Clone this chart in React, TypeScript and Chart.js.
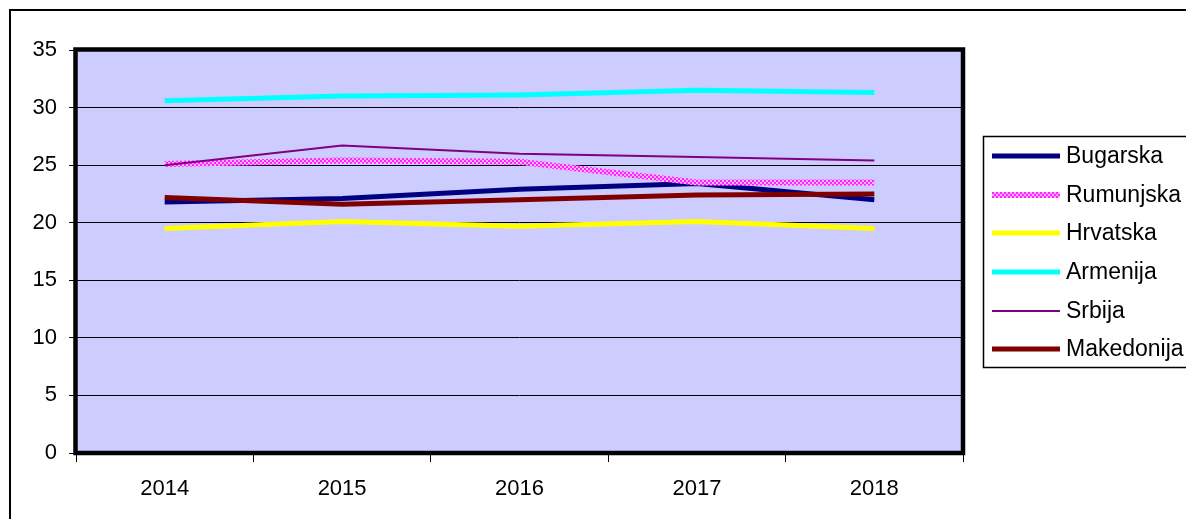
import React, { useEffect, useRef } from "react";
import { Chart, registerables } from "chart.js";

Chart.register(...registerables);

const years = ["2014", "2015", "2016", "2017", "2018"];
const bugarska = [21.8, 22.1, 22.9, 23.4, 22.0];
const rumunjska = [25.1, 25.4, 25.3, 23.5, 23.5];
const hrvatska = [19.5, 20.1, 19.7, 20.1, 19.5];
const armenija = [30.6, 31.0, 31.1, 31.5, 31.3];
const srbija = [25.0, 26.7, 26.0, 25.7, 25.4];
const makedonija = [22.2, 21.6, 22.0, 22.4, 22.5];
const seriesNames = ["Bugarska", "Rumunjska", "Hrvatska", "Armenija", "Srbija", "Makedonija"];

const FONT = "'Liberation Sans', Arial, sans-serif";

function makePattern(): CanvasPattern | string {
  const c = document.createElement("canvas");
  c.width = 4;
  c.height = 4;
  const g = c.getContext("2d");
  if (!g) return "#FF66FF";
  g.fillStyle = "#FFB3FF";
  g.fillRect(0, 0, 4, 4);
  g.fillStyle = "#FF22FF";
  g.fillRect(0, 0, 2, 2);
  g.fillRect(2, 2, 2, 2);
  const p = g.createPattern(c, "repeat");
  return p || "#FF66FF";
}

export default function App() {
  const ref = useRef<HTMLCanvasElement | null>(null);

  useEffect(() => {
    const canvas = ref.current;
    if (!canvas) return;
    const pink = makePattern();
    const colors: any[] = ["#000080", pink, "#FFFF00", "#00FFFF", "#800080", "#800000"];
    const widths = [5, 6, 5, 5, 2, 5];
    const values = [bugarska, rumunjska, hrvatska, armenija, srbija, makedonija];

    const framePlugin = {
      id: "frame",
      beforeDraw(chart: any) {
        const ctx = chart.ctx;
        const a = chart.chartArea;
        ctx.save();
        ctx.fillStyle = "#FFFFFF";
        ctx.fillRect(0, 0, chart.width, chart.height);
        ctx.strokeStyle = "#000000";
        ctx.lineWidth = 2;
        ctx.strokeRect(10, 10, chart.width + 20, chart.height + 20);
        ctx.fillStyle = "#CCCCFF";
        ctx.fillRect(a.left, a.top, a.right - a.left, a.bottom - a.top);
        ctx.restore();
      },
      afterDraw(chart: any) {
        const ctx = chart.ctx;
        const a = chart.chartArea;
        ctx.save();
        ctx.strokeStyle = "#000000";
        ctx.lineWidth = 4.5;
        ctx.strokeRect(a.left - 0.5, a.top - 0.5, a.right - a.left + 0.5, a.bottom - a.top + 0.5);
        // legend
        ctx.lineWidth = 1.5;
        ctx.strokeRect(983.5, 136.5, 400, 231);
        const rows = [156, 195, 233, 272, 311, 349];
        ctx.font = `23px ${FONT}`;
        ctx.textBaseline = "middle";
        ctx.textAlign = "left";
        seriesNames.forEach((name, i) => {
          ctx.beginPath();
          ctx.strokeStyle = colors[i];
          ctx.lineWidth = widths[i];
          ctx.moveTo(992, rows[i]);
          ctx.lineTo(1060, rows[i]);
          ctx.stroke();
          ctx.fillStyle = "#000000";
          ctx.fillText(name, 1066, rows[i] + 1);
        });
        ctx.restore();
      },
    };

    const chart = new Chart(canvas, {
      type: "line",
      data: {
        labels: years,
        datasets: seriesNames.map((name, i) => ({
          label: name,
          data: values[i],
          borderColor: colors[i],
          backgroundColor: colors[i],
          borderWidth: widths[i],
          pointRadius: 0,
          tension: 0,
          fill: false,
          order: 6 - i,
        })),
      },
      options: {
        responsive: false,
        animation: false,
        devicePixelRatio: 1,
        layout: { padding: { top: 50, right: 223, left: 0, bottom: 0 } },
        plugins: {
          legend: { display: false },
          tooltip: { enabled: false },
          title: { display: false },
        },
        scales: {
          x: {
            offset: true,
            grid: {
              display: true,
              offset: true,
              drawOnChartArea: false,
              drawTicks: true,
              tickLength: 9,
              color: "#000000",
              lineWidth: 1,
            },
            border: { display: false },
            ticks: {
              color: "#000000",
              font: { family: FONT, size: 22 },
              padding: 14,
              maxRotation: 0,
            },
            afterFit(scale: any) {
              scale.height = 66;
            },
          },
          y: {
            min: 0,
            max: 35,
            grid: {
              color: "#000000",
              lineWidth: 1,
              tickLength: 7,
              drawTicks: true,
            },
            border: { display: false },
            ticks: {
              stepSize: 5,
              color: "#000000",
              font: { family: FONT, size: 22 },
              padding: 12,
            },
            afterFit(scale: any) {
              scale.width = 76;
            },
          },
        },
      },
      plugins: [framePlugin],
    });
    return () => chart.destroy();
  }, []);

  return (
    <div style={{ position: "absolute", left: 0, top: 0, width: 1186, height: 519 }}>
      <canvas ref={ref} width={1186} height={519} style={{ display: "block" }} />
    </div>
  );
}
